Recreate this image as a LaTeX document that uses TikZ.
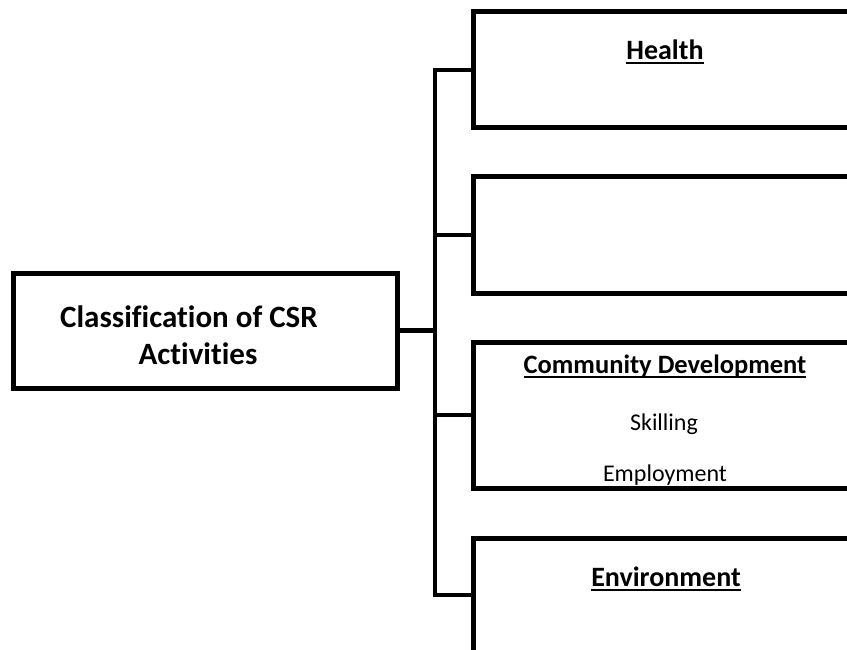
\documentclass[tikz,border=0pt]{standalone}
\usepackage{fontspec}
\setmainfont{Carlito}[Ligatures=NoCommon,RawFeature={-liga;-clig;-dlig}]
\newcommand\ulx[1]{\setbox0=\hbox{#1}\rlap{\rule[-4.5pt]{\wd0}{2pt}}\box0}
\begin{document}
\begin{tikzpicture}[x=1pt,y=-1pt,
  box/.style={draw, line width=5pt, minimum width=387pt, inner sep=0pt, anchor=center},
  conn/.style={line width=4.5pt},
  hd/.style={font=\fontsize{28}{34}\selectfont\bfseries, anchor=base, inner sep=0pt},
  hdsmall/.style={font=\fontsize{26.5}{32}\selectfont\bfseries, anchor=base, inner sep=0pt},
  tt/.style={font=\fontsize{31}{37}\selectfont\bfseries, anchor=base, inner sep=0pt},
  bd/.style={font=\fontsize{24}{29}\selectfont, anchor=base, inner sep=0pt}]
\useasboundingbox (0,0) rectangle (847,650);
\clip (0,0) rectangle (847,650);
% boxes
\node[box, minimum height=116pt] (health) at (666.5,70) {};
\node[box, minimum height=116pt] (b2) at (666.5,235) {};
\node[box, minimum height=146pt] (comm) at (666.5,415) {};
\node[box, minimum height=114pt] (env) at (666.5,595) {};
\node[box, minimum width=384pt, minimum height=115pt] (root) at (205,330.5) {};
% trunk
\coordinate (ttop) at (435,70);
\coordinate (tbot) at (435,595);
\draw[conn] (health.west) -- (ttop) -- (tbot) -- (env.west);
\draw[conn] (b2.west) -- (b2.west -| ttop);
\draw[conn] (comm.west) -- (comm.west -| ttop);
\draw[conn] (root.east) -- (root.east -| ttop);
% texts
\node[hd] (thealth) at (665,60) {\ulx{Health}};
\node[hdsmall] (tcomm) at (665,373) {\ulx{Community Development}};
\node[bd] (tskill) at (664,430) {Skilling};
\node[bd] (temp) at (665,481) {Employment};
\node[hd] (tenv) at (666,586) {\ulx{Environment}};
\node[tt] (tt1) at (189,327) {Classification of CSR};
\node[tt] (tt2) at (198,364) {Activities};
\end{tikzpicture}
\end{document}
